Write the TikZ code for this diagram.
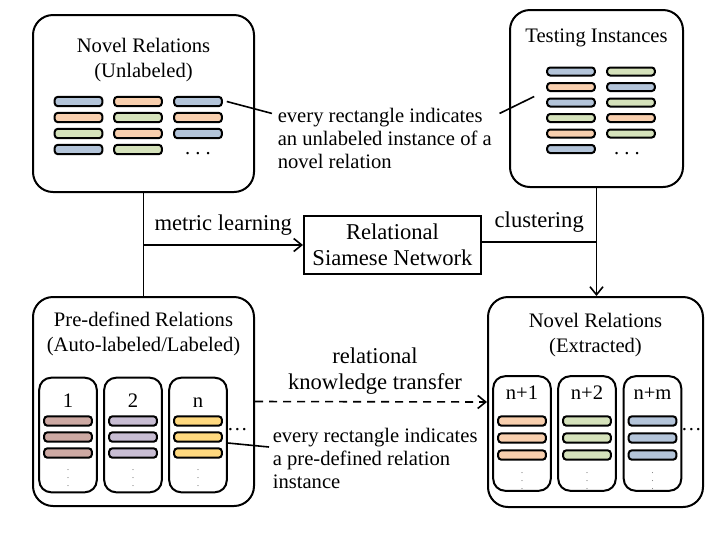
\documentclass[tikz,border=0pt]{standalone}
\usepackage{fontspec}
\setmainfont{Liberation Serif}
\usepackage{tikz}
\usetikzlibrary{positioning,arrows.meta}

\definecolor{barblue}{HTML}{B3C4D9}
\definecolor{barorange}{HTML}{F8CFAE}
\definecolor{bargreen}{HTML}{D5E2BB}
\definecolor{barbrown}{HTML}{CDA9A3}
\definecolor{barpurple}{HTML}{C8BDD3}
\definecolor{baryellow}{HTML}{FFD97F}

\newcommand\boxsize{\fontsize{10.3}{12.5}\selectfont}
\newcommand\notesize{\fontsize{10.3}{11.5}\selectfont}
\newcommand\midsize{\fontsize{11.3}{12.8}\selectfont}

\begin{document}
\begin{tikzpicture}[x=0.5pt,y=-0.5pt,>={Straight Barb[length=4pt,width=6.5pt]},
                    line width=0.8pt]
  \tikzstyle{groupbox}=[draw,rounded corners=10pt,line width=1pt]
  \tikzstyle{subbox}=[draw,rounded corners=6pt,line width=1pt,
                      minimum width=28.8pt,minimum height=57.3pt]
  \tikzstyle{instbar}=[draw,rounded corners=1.5pt,line width=1pt,
                       minimum width=23.8pt,minimum height=4.6pt,inner sep=0pt]
  \tikzstyle{titletext}=[inner sep=0pt,align=center,font=\boxsize]
  \tikzstyle{sublabel}=[inner sep=0pt,text height=7pt,text depth=0pt,font=\boxsize]
  \tikzstyle{notetext}=[inner sep=1pt,align=left,font=\notesize]
  \tikzstyle{midlabel}=[align=center,font=\midsize]
  \tikzstyle{vdotsmark}=[inner sep=0pt,text=gray]
  \useasboundingbox (0,0) rectangle (724,532);

  % novel relations, unlabeled
  \node[groupbox,minimum width=110.5pt,minimum height=88.5pt] (novelU) at (143.5,103.5) {};
  \node[titletext,below=11.5pt of novelU.north] (novelUt) {Novel Relations\\(Unlabeled)};
  \foreach \c [count=\r] in {barblue,barorange,bargreen,barblue}
    \node[instbar,fill=\c] (u1\r) at (78.5,85.5+16*\r) {};
  \foreach \c [count=\r] in {barorange,bargreen,barorange,bargreen}
    \node[instbar,fill=\c] (u2\r) at (138,85.5+16*\r) {};
  \foreach \c [count=\r] in {barblue,barorange,barblue}
    \node[instbar,fill=\c] (u3\r) at (198,85.5+16*\r) {};
  \node[anchor=base,inner sep=0pt,font=\boxsize] (udots) at (198,154) {.\ .\ .};

  % testing instances
  \node[groupbox,minimum width=86.5pt,minimum height=88.5pt] (test) at (596.5,98.5) {};
  \node[titletext,below=9.5pt of test.north] (testt) {Testing Instances};
  \foreach \c [count=\r] in {barblue,barorange,barblue,bargreen,barorange,barblue}
    \node[instbar,fill=\c,minimum height=4pt] (t1\r) at (571,56+15.5*\r) {};
  \foreach \c [count=\r] in {bargreen,barblue,bargreen,barorange,bargreen}
    \node[instbar,fill=\c,minimum height=4pt] (t2\r) at (631,56+15.5*\r) {};
  \node[anchor=base,inner sep=0pt,font=\boxsize] (tdots) at (627,154) {.\ .\ .};

  \node[notetext,anchor=west] (note1) at (275,138.5)
    {every rectangle indicates\\an unlabeled instance of a\\novel relation};
  \draw ([xshift=2pt]u31.east) -- ([xshift=-1.5pt,yshift=-4pt]note1.north west);
  \draw ([xshift=2.5pt,yshift=-4pt]note1.north east) -- ([xshift=-6pt,yshift=3pt]t13.west);

  % relational siamese network
  \node[draw,line width=1pt,minimum width=88.5pt,minimum height=29pt,
        inner sep=0pt,midlabel] (rsn) at (392.5,245) {Relational\\Siamese Network};

  % pre-defined relations
  \node[groupbox,minimum width=110.5pt,minimum height=104.5pt] (pre) at (143.5,401.5) {};
  \node[titletext,below=7.5pt of pre.north] (pret) {Pre-defined Relations\\(Auto-labeled/Labeled)};
  \node[subbox] (pre1) at (68,435) {};
  \node[subbox] (pre2) at (133,435) {};
  \node[subbox] (pre3) at (198,435) {};
  \node[sublabel,below=8pt of pre1.north] {1};
  \node[sublabel,below=8pt of pre2.north] {2};
  \node[sublabel,below=8pt of pre3.north] {n};
  \foreach \c/\x [count=\k] in {barbrown/68,barpurple/133,baryellow/198} {
    \foreach \r in {1,2,3}
      \node[instbar,fill=\c] (p\k\r) at (\x,405+16*\r) {};
    \node[vdotsmark] at (\x,472) {\tiny$\vdots$};
  }
  \node[anchor=base,inner sep=0pt,font=\boxsize] (pdots) at (237.5,430.5) {\ldots};

  \node[notetext,anchor=west] (note2) at (270,458)
    {every rectangle indicates\\a pre-defined relation\\instance};
  \draw ([yshift=-4pt]pre3.east) -- ([xshift=-0.5pt,yshift=5.5pt]note2.west);

  % novel relations, extracted
  \node[groupbox,minimum width=107.5pt,minimum height=105pt] (novelE) at (595.5,402) {};
  \node[titletext,below=8pt of novelE.north] (novelEt) {Novel Relations\\(Extracted)};
  \node[subbox] (ext1) at (522,433.5) {};
  \node[subbox] (ext2) at (587,433.5) {};
  \node[subbox] (ext3) at (652.5,433.5) {};
  \node[sublabel,below=4.5pt of ext1.north] {n+1};
  \node[sublabel,below=4.5pt of ext2.north] {n+2};
  \node[sublabel,below=4.5pt of ext3.north] {n+m};
  \foreach \c/\x [count=\k] in {barorange/522,bargreen/587,barblue/652.5} {
    \foreach \r in {1,2,3}
      \node[instbar,fill=\c] (e\k\r) at (\x,404+17*\r) {};
    \node[vdotsmark] at (\x,475) {\tiny$\vdots$};
  }
  \node[anchor=base,inner sep=0pt,font=\boxsize] (edots) at (691.5,430.5) {\ldots};

  % connectors
  \draw (novelU.south) -- (pre.north);
  \draw[->] (novelU.south |- rsn.west) -- node[above=1pt,midlabel] {metric learning} (rsn.west);
  \coordinate (clu) at ([yshift=1.5pt]rsn.east);
  \draw (clu) -- node[above=1pt,midlabel] {clustering} (clu -| test.south);
  \draw[->] (test.south) -- (test.south |- novelE.north);
  \draw[->,dash pattern=on 4pt off 3pt] (pre.east) --
    node[above,midlabel,xshift=2pt] {relational\\knowledge transfer} (novelE.west);
\end{tikzpicture}
\end{document}
